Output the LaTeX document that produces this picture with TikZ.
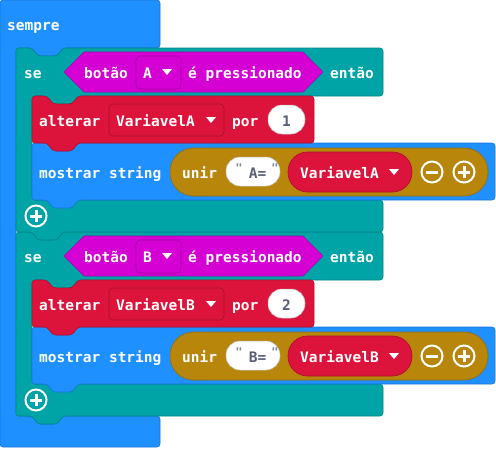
\documentclass[tikz,border=0pt]{standalone}
\usepackage{fontspec}
\newfontfamily\blockfont{DejaVu Sans Mono Bold}
\definecolor{basicblue}{HTML}{1E90FF}
\definecolor{logicteal}{HTML}{00A4A6}
\definecolor{inputpink}{HTML}{D400D4}
\definecolor{varred}{HTML}{DC143C}
\definecolor{textgold}{HTML}{B8860B}
\definecolor{numgray}{HTML}{575E75}
\tikzstyle{basicblock} = [
  fill=basicblue,
  draw=basicblue!82!black,
  line width=0.6pt,
  rounded corners=3pt
]
\tikzstyle{logicblock} = [
  fill=logicteal,
  draw=logicteal!82!black,
  line width=0.6pt,
  rounded corners=3pt
]
\tikzstyle{varblock} = [
  fill=varred,
  draw=varred!80!black,
  line width=0.6pt,
  rounded corners=3pt
]
\tikzstyle{inputblock} = [
  fill=inputpink,
  draw=inputpink!80!black,
  line width=0.6pt,
  rounded corners=1pt
]
\tikzstyle{goldpill} = [fill=textgold, draw=textgold!80!black, line width=0.6pt, rounded corners=23.5pt]
\tikzstyle{whitepill} = [fill=white, draw=black!25, line width=0.5pt, rounded corners=14pt]
\tikzstyle{varpill} = [fill=varred, draw=varred!75!black, line width=0.6pt, rounded corners=19.5pt]
\tikzstyle{pinkdrop} = [fill=inputpink, draw=inputpink!75!black, line width=0.6pt, rounded corners=4pt]
\tikzstyle{reddrop} = [fill=varred, draw=varred!75!black, line width=0.6pt, rounded corners=4pt]
\tikzstyle{blocktext} = [
  text=white,
  font=\blockfont\fontsize{14.5pt}{17pt}\selectfont,
  inner sep=0pt,
  anchor=base west
]
\tikzstyle{numtext} = [blocktext, text=numgray, anchor=base]
\tikzstyle{quotetext} = [numtext, text=numgray!75!white, font=\blockfont\fontsize{12pt}{14pt}\selectfont]
\tikzstyle{iconline} = [draw=white, line width=2pt]
\tikzstyle{iconbar} = [draw=white, line width=3pt]

\begin{document}
\begin{tikzpicture}[x=1pt, y=-1pt]
    \useasboundingbox (0,0) rectangle (496,448);

    % Bloco sempre
    \draw [basicblock] (0,0) -- (160,0) -- (160,48) -- (63,48) -- (57,56) -- (38,56) -- (32,48) -- (16,48)
        -- (16,416) -- (32,416) -- (38,424) -- (57,424) -- (63,416) -- (160,416) -- (160,447) -- (0,447) -- cycle;
    \node (sempre) [blocktext] at (7,30) {sempre};

    % Segundo bloco se (botão B)
    \draw [logicblock] (16,232) -- (32,232) -- (38,240) -- (57,240) -- (63,232) -- (383,232) -- (383,280)
        -- (78,280) -- (72,288) -- (53,288) -- (47,280) -- (32,280) -- (32,384) -- (383,384) -- (383,416)
        -- (63,416) -- (57,424) -- (38,424) -- (32,416) -- (16,416) -- cycle;

    % Primeiro bloco se (botão A)
    \draw [logicblock] (16,48) -- (32,48) -- (38,56) -- (57,56) -- (63,48) -- (383,48) -- (383,96)
        -- (78,96) -- (72,104) -- (53,104) -- (47,96) -- (32,96) -- (32,200) -- (383,200) -- (383,232)
        -- (63,232) -- (57,240) -- (38,240) -- (32,232) -- (16,232) -- cycle;
    \node (seA) [blocktext] at (24,78) {se};
    \draw [inputblock] (64,72) -- (84,52) -- (303,52) -- (323,72) -- (303,92) -- (84,92) -- cycle;
    \node (botaoA) [blocktext] at (84,78) {botão};
    \draw [pinkdrop] (136,56) rectangle (181,89);
    \node (btnA) [blocktext] at (143,78) {A};
    \fill [white] (162,69) -- (172,69) -- (167,75) -- cycle;
    \node (pressA) [blocktext] at (188,78) {é pressionado};
    \node (entaoA) [blocktext] at (330,78) {então};

    % mostrar string A
    \draw [basicblock] (32,143) -- (47,143) -- (53,151) -- (72,151) -- (78,143) -- (495,143) -- (495,200)
        -- (78,200) -- (72,208) -- (53,208) -- (47,200) -- (32,200) -- cycle;
    \node (mostrarA) [blocktext] at (39,178) {mostrar string};
    \draw [goldpill] (170,148) rectangle (488,196);
    \node (unirA) [blocktext] at (182,178) {unir};
    \draw [whitepill] (226,157) rectangle (280,186);
    \node (qA1) [quotetext] at (239,172) {"};
    \node (strA) [numtext] at (257.5,178) {A=};
    \node (qA2) [quotetext] at (275,172) {"};
    \draw [varpill] (288,152) rectangle (412,192);
    \node (valA) [blocktext] at (300,178) {VariavelA};
    \fill [white] (389,169) -- (399,169) -- (394,175) -- cycle;
    \draw [iconline] (432,172) circle (10.5pt);
    \draw [iconbar] (426,172) -- (438,172);
    \draw [iconline] (464,172) circle (10.5pt);
    \draw [iconbar] (458,172) -- (470,172);
    \draw [iconbar] (464,166) -- (464,178);

    % alterar A
    \draw [varblock] (32,96) -- (47,96) -- (53,104) -- (72,104) -- (78,96) -- (314,96) -- (314,143)
        -- (78,143) -- (72,151) -- (53,151) -- (47,143) -- (32,143) -- cycle;
    \node (alterarA) [blocktext] at (39,126) {alterar};
    \draw [reddrop] (109,104) rectangle (224,136);
    \node (varA) [blocktext] at (116,126) {VariavelA};
    \fill [white] (206,117) -- (216,117) -- (211,123) -- cycle;
    \node (porA) [blocktext] at (232,126) {por};
    \draw [whitepill] (268,105) rectangle (305,134);
    \node (numA) [numtext] at (286.5,126) {1};

    % botão + do primeiro se
    \draw [iconline] (36,216) circle (10.5pt);
    \draw [iconbar] (30,216) -- (42,216);
    \draw [iconbar] (36,210) -- (36,222);

    % Segundo se: textos
    \node (seB) [blocktext] at (24,262) {se};
    \draw [inputblock] (64,256) -- (84,236) -- (303,236) -- (323,256) -- (303,276) -- (84,276) -- cycle;
    \node (botaoB) [blocktext] at (84,262) {botão};
    \draw [pinkdrop] (136,240) rectangle (181,273);
    \node (btnB) [blocktext] at (143,262) {B};
    \fill [white] (162,253) -- (172,253) -- (167,259) -- cycle;
    \node (pressB) [blocktext] at (188,262) {é pressionado};
    \node (entaoB) [blocktext] at (330,262) {então};

    % mostrar string B
    \draw [basicblock] (32,327) -- (47,327) -- (53,335) -- (72,335) -- (78,327) -- (495,327) -- (495,384)
        -- (78,384) -- (72,392) -- (53,392) -- (47,384) -- (32,384) -- cycle;
    \node (mostrarB) [blocktext] at (39,362) {mostrar string};
    \draw [goldpill] (170,332) rectangle (488,380);
    \node (unirB) [blocktext] at (182,362) {unir};
    \draw [whitepill] (226,341) rectangle (280,370);
    \node (qB1) [quotetext] at (239,356) {"};
    \node (strB) [numtext] at (257.5,362) {B=};
    \node (qB2) [quotetext] at (275,356) {"};
    \draw [varpill] (288,336) rectangle (412,376);
    \node (valB) [blocktext] at (300,362) {VariavelB};
    \fill [white] (389,353) -- (399,353) -- (394,359) -- cycle;
    \draw [iconline] (432,356) circle (10.5pt);
    \draw [iconbar] (426,356) -- (438,356);
    \draw [iconline] (464,356) circle (10.5pt);
    \draw [iconbar] (458,356) -- (470,356);
    \draw [iconbar] (464,350) -- (464,362);

    % alterar B
    \draw [varblock] (32,280) -- (47,280) -- (53,288) -- (72,288) -- (78,280) -- (314,280) -- (314,327)
        -- (78,327) -- (72,335) -- (53,335) -- (47,327) -- (32,327) -- cycle;
    \node (alterarB) [blocktext] at (39,310) {alterar};
    \draw [reddrop] (109,288) rectangle (224,320);
    \node (varB) [blocktext] at (116,310) {VariavelB};
    \fill [white] (206,301) -- (216,301) -- (211,307) -- cycle;
    \node (porB) [blocktext] at (232,310) {por};
    \draw [whitepill] (268,289) rectangle (305,318);
    \node (numB) [numtext] at (286.5,310) {2};

    % botão + do segundo se
    \draw [iconline] (36,400) circle (10.5pt);
    \draw [iconbar] (30,400) -- (42,400);
    \draw [iconbar] (36,394) -- (36,406);

\end{tikzpicture}
\end{document}
